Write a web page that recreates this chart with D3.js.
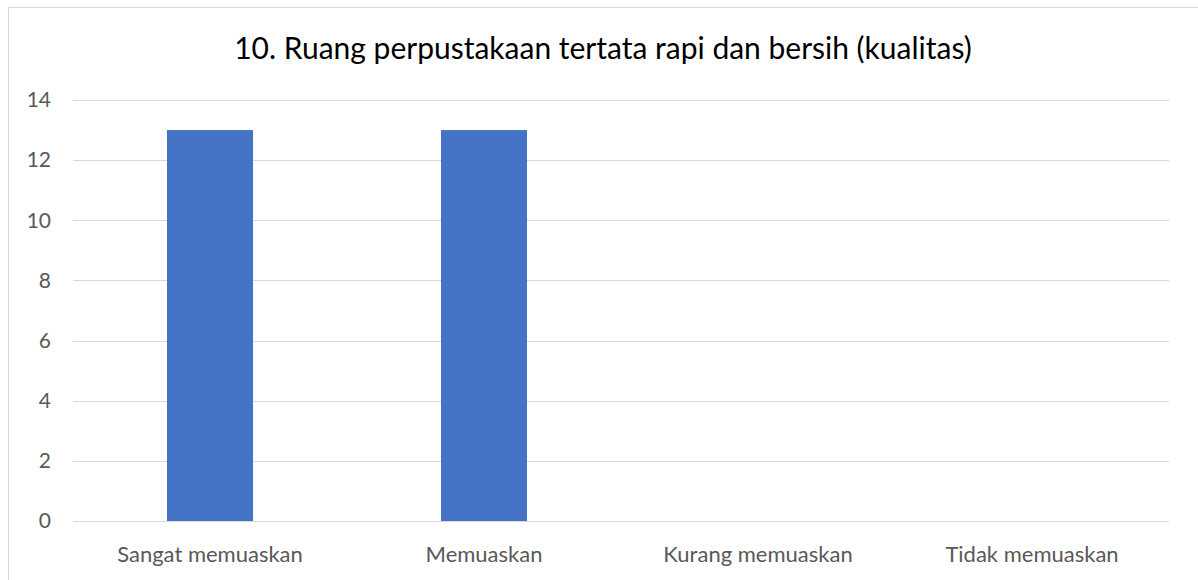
<!DOCTYPE html>
<html>
<head>
<meta charset="utf-8">
<script src="https://cdn.jsdelivr.net/npm/d3@7"></script>
<style>
  body { margin: 0; background: #fff; }
  svg { display: block; font-family: Lato, "Open Sans", sans-serif; }
</style>
</head>
<body>
<div id="container"></div>
<script>
/* DATA */
const categories = ["Sangat memuaskan", "Memuaskan", "Kurang memuaskan", "Tidak memuaskan"];
const values = [13, 13, 0, 0];
const yTicks = [0, 2, 4, 6, 8, 10, 12, 14];
const title = "10. Ruang perpustakaan tertata rapi dan bersih (kualitas)";

/* CONSTANTS */
const width = 1198,
  height = 580,
  margin = { top: 100, bottom: 59, left: 73, right: 29 };

const svg = d3.select("#container")
  .append("svg")
  .attr("width", width)
  .attr("height", height);

// chart border
svg.append("rect")
  .attr("x", 8.5)
  .attr("y", 7.5)
  .attr("width", 1200)
  .attr("height", 600)
  .attr("fill", "#fff")
  .attr("stroke", "#d9d9d9");

/* SCALES */
const xScale = d3.scaleBand()
  .domain(categories)
  .range([margin.left, width - margin.right])
  .paddingInner(0.686)
  .paddingOuter(0.343);

const yScale = d3.scaleLinear()
  .domain([0, 14])
  .range([height - margin.bottom, margin.top]);

// gridlines
svg.append("g")
  .selectAll("line")
  .data(yTicks)
  .join("line")
  .attr("x1", margin.left)
  .attr("x2", width - margin.right)
  .attr("y1", d => Math.round(yScale(d)) + 0.5)
  .attr("y2", d => Math.round(yScale(d)) + 0.5)
  .attr("stroke", "#d9d9d9")
  .attr("stroke-width", 1);

// y axis labels
const yAxis = d3.axisLeft(yScale).tickValues(yTicks).tickSize(0).tickPadding(0);
svg.append("g")
  .attr("transform", `translate(${51}, 0)`)
  .call(yAxis)
  .call(g => g.select(".domain").remove())
  .selectAll("text")
    .attr("fill", "#595959")
    .style("font-size", "21px")
    .style("font-family", "Lato, 'Open Sans', sans-serif");

// x axis labels
const xAxis = d3.axisBottom(xScale).tickSize(0).tickPadding(25);
svg.append("g")
  .attr("transform", `translate(0, ${height - margin.bottom})`)
  .call(xAxis)
  .call(g => g.select(".domain").remove())
  .selectAll("text")
    .attr("fill", "#595959")
    .style("font-size", "22px")
    .style("font-family", "Lato, 'Open Sans', sans-serif");

// bars
svg.selectAll("rect.bar")
  .data(values)
  .join("rect")
  .attr("class", "bar")
  .attr("x", (d, i) => xScale(categories[i]))
  .attr("y", d => yScale(d))
  .attr("width", xScale.bandwidth())
  .attr("height", d => yScale(0) - yScale(d))
  .attr("fill", "#4472c4");

// title
svg.append("text")
  .attr("x", 603)
  .attr("y", 59)
  .attr("text-anchor", "middle")
  .attr("fill", "#000")
  .style("font-size", "30px")
  .text(title);
</script>
</body>
</html>
